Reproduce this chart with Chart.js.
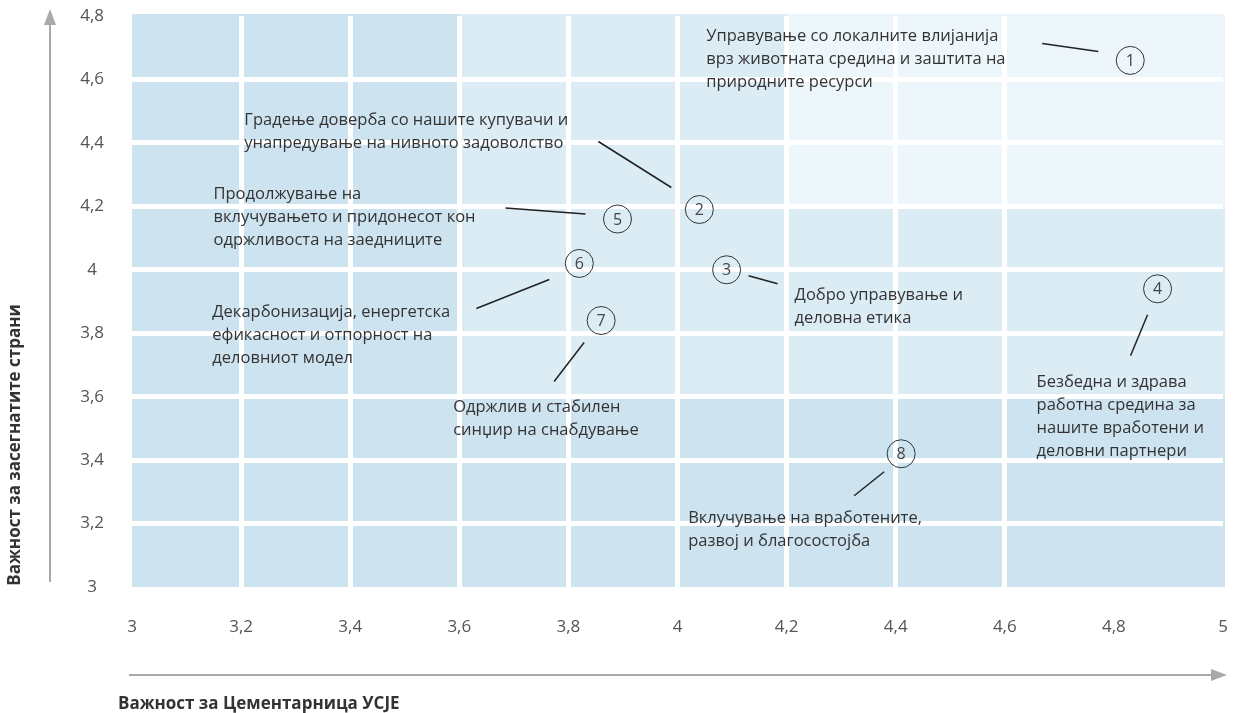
<!DOCTYPE html>
<html lang="mk">
<head>
<meta charset="UTF-8">
<title>Матрица на материјалност</title>
<script src="https://cdn.jsdelivr.net/npm/chart.js"></script>
<style>
    body {
        margin: 0;
        background: #fff;
        font-family: 'Open Sans', sans-serif;
    }
    .wrap {
        width: 1235px;
        height: 713px;
        position: relative;
    }
</style>
</head>
<body>
<div class="wrap"><canvas id="matrix"></canvas></div>
<script>
// topics: number in the circle, importance for the company (x), for stakeholders (y)
const topicNumbers = ['1', '2', '3', '4', '5', '6', '7', '8'];
const companyImportance = [4.83, 4.04, 4.09, 4.88, 3.89, 3.82, 3.86, 4.41];
const stakeholderImportance = [4.66, 4.19, 4.00, 3.94, 4.16, 4.02, 3.84, 3.42];
const topicNames = [
    ['Управување со локалните влијанија', 'врз животната средина и заштита на', 'природните ресурси'],
    ['Градење доверба со нашите купувачи и', 'унапредување на нивното задоволство'],
    ['Добро управување и', 'деловна етика'],
    ['Безбедна и здрава', 'работна средина за', 'нашите вработени и', 'деловни партнери'],
    ['Продолжување на', 'вклучувањето и придонесот кон', 'одржливоста на заедниците'],
    ['Декарбонизација, енергетска', 'ефикасност и отпорност на', 'деловниот модел'],
    ['Одржлив и стабилен', 'синџир на снабдување'],
    ['Вклучување на вработените,', 'развој и благосостојба']
];
const xTickLabels = ['3', '3,2', '3,4', '3,6', '3,8', '4', '4,2', '4,4', '4,6', '4,8', '5'];
const yTickLabels = ['3', '3,2', '3,4', '3,6', '3,8', '4', '4,2', '4,4', '4,6', '4,8'];
const xTitle = 'Важност за Цементарница УСЈЕ';
const yTitle = 'Важност за засегнатите страни';

// background bands, in axis units
const zones = [
    { x0: 3, x1: 5, y0: 3, y1: 4.8, color: '#cde4f0' },
    { x0: 3.6, x1: 5, y0: 3.6, y1: 4.8, color: '#dcecf5' },
    { x0: 4.2, x1: 5, y0: 4.2, y1: 4.8, color: '#edf6fa' }
];

// where each caption and its leader line sit, in pixels from the circle centre
const captionLayout = [
    { tx: -424, ty: -26, l: [-88, -17, -32, -9] },
    { tx: -455, ty: -91, l: [-101, -68, -28, -22] },
    { tx: 68, ty: 24, l: [22, 6, 51, 14] },
    { tx: -121, ty: 91, l: [-10, 26, -27, 67] },
    { tx: -404, ty: -27, l: [-112, -11, -32, -5] },
    { tx: -367, ty: 47, l: [-103, 45, -30, 16] },
    { tx: -148, ty: 85, l: [-47, 61, -17, 22] },
    { tx: -213, ty: 63, l: [-47, 42, -17, 18] }
];

const zonesPlugin = {
    id: 'zones',
    beforeDraw(chart) {
        const { ctx, scales: { x, y } } = chart;
        ctx.save();
        zones.forEach(z => {
            const left = x.getPixelForValue(z.x0);
            const right = x.getPixelForValue(z.x1);
            const top = y.getPixelForValue(z.y1) - 2;
            const bottom = y.getPixelForValue(z.y0);
            ctx.fillStyle = z.color;
            ctx.fillRect(left, top, right - left + 2, bottom - top);
        });
        ctx.restore();
    }
};

const captionsPlugin = {
    id: 'captions',
    afterDatasetsDraw(chart) {
        const { ctx } = chart;
        const points = chart.getDatasetMeta(0).data;
        ctx.save();
        points.forEach((pt, i) => {
            const lay = captionLayout[i];
            ctx.fillStyle = '#444';
            ctx.font = '16px "Open Sans"';
            ctx.textAlign = 'center';
            ctx.textBaseline = 'middle';
            ctx.fillText(topicNumbers[i], pt.x, pt.y + 1);

            ctx.strokeStyle = '#222';
            ctx.lineWidth = 1.5;
            ctx.beginPath();
            ctx.moveTo(pt.x + lay.l[0], pt.y + lay.l[1]);
            ctx.lineTo(pt.x + lay.l[2], pt.y + lay.l[3]);
            ctx.stroke();

            ctx.fillStyle = '#333';
            ctx.font = '16.5px "Open Sans"';
            ctx.textAlign = 'left';
            topicNames[i].forEach((line, k) => {
                ctx.fillText(line, pt.x + lay.tx, pt.y + lay.ty + 2 + k * 23);
            });
        });
        ctx.restore();
    }
};

const axesPlugin = {
    id: 'axesDeco',
    afterDraw(chart) {
        const { ctx, chartArea: a } = chart;
        ctx.save();
        ctx.strokeStyle = '#a7a9ac';
        ctx.fillStyle = '#a7a9ac';
        ctx.lineWidth = 2;
        // vertical arrow
        ctx.beginPath();
        ctx.moveTo(50, a.bottom - 5);
        ctx.lineTo(50, 22);
        ctx.stroke();
        ctx.beginPath();
        ctx.moveTo(50, 9);
        ctx.lineTo(56, 25);
        ctx.lineTo(44, 25);
        ctx.closePath();
        ctx.fill();
        // horizontal arrow
        ctx.beginPath();
        ctx.moveTo(a.left - 3, 675);
        ctx.lineTo(1213, 675);
        ctx.stroke();
        ctx.beginPath();
        ctx.moveTo(1227, 675);
        ctx.lineTo(1211, 669);
        ctx.lineTo(1211, 681);
        ctx.closePath();
        ctx.fill();

        ctx.fillStyle = '#333';
        ctx.font = 'bold 17px "Open Sans"';
        ctx.textBaseline = 'middle';
        ctx.textAlign = 'left';
        ctx.fillText(xTitle, 118, 704);
        ctx.translate(15, 445);
        ctx.rotate(-Math.PI / 2);
        ctx.textAlign = 'center';
        ctx.fillText(yTitle, 0, 0);
        ctx.restore();
    }
};

const hideEdges = (ctx) => {
    const v = ctx.tick ? ctx.tick.value : null;
    return (v === 3 || v === 5 || v === 4.8) ? 'rgba(0,0,0,0)' : '#ffffff';
};

new Chart(document.getElementById('matrix'), {
    type: 'scatter',
    data: {
        datasets: [{
            data: companyImportance.map((v, i) => ({ x: v, y: stakeholderImportance[i] })),
            pointRadius: 14,
            pointHoverRadius: 14,
            pointBackgroundColor: 'rgba(255,255,255,0)',
            pointBorderColor: '#333',
            pointBorderWidth: 1,
            pointHoverBorderWidth: 1
        }]
    },
    options: {
        responsive: true,
        maintainAspectRatio: false,
        animation: false,
        events: [],
        layout: { autoPadding: false, padding: { left: 0, top: 16, right: 12, bottom: 0 } },
        plugins: {
            legend: { display: false },
            tooltip: { enabled: false }
        },
        scales: {
            x: {
                type: 'linear',
                min: 3,
                max: 5,
                afterFit: s => { s.height = 126; s.paddingLeft = 0; s.paddingRight = 0; },
                ticks: {
                    stepSize: 0.2,
                    padding: 30,
                    color: '#555',
                    font: { family: 'Open Sans', size: 17 },
                    callback: (v, i) => xTickLabels[i]
                },
                grid: { color: hideEdges, lineWidth: 5, drawTicks: false },
                border: { display: false }
            },
            y: {
                type: 'linear',
                min: 3,
                max: 4.8,
                afterFit: s => { s.width = 132; s.paddingTop = 0; s.paddingBottom = 0; },
                ticks: {
                    stepSize: 0.2,
                    padding: 28,
                    crossAlign: 'center',
                    color: '#555',
                    font: { family: 'Open Sans', size: 17 },
                    callback: (v, i) => yTickLabels[i]
                },
                grid: { color: hideEdges, lineWidth: 5, drawTicks: false },
                border: { display: false }
            }
        }
    },
    plugins: [zonesPlugin, captionsPlugin, axesPlugin]
});
</script>
</body>
</html>
